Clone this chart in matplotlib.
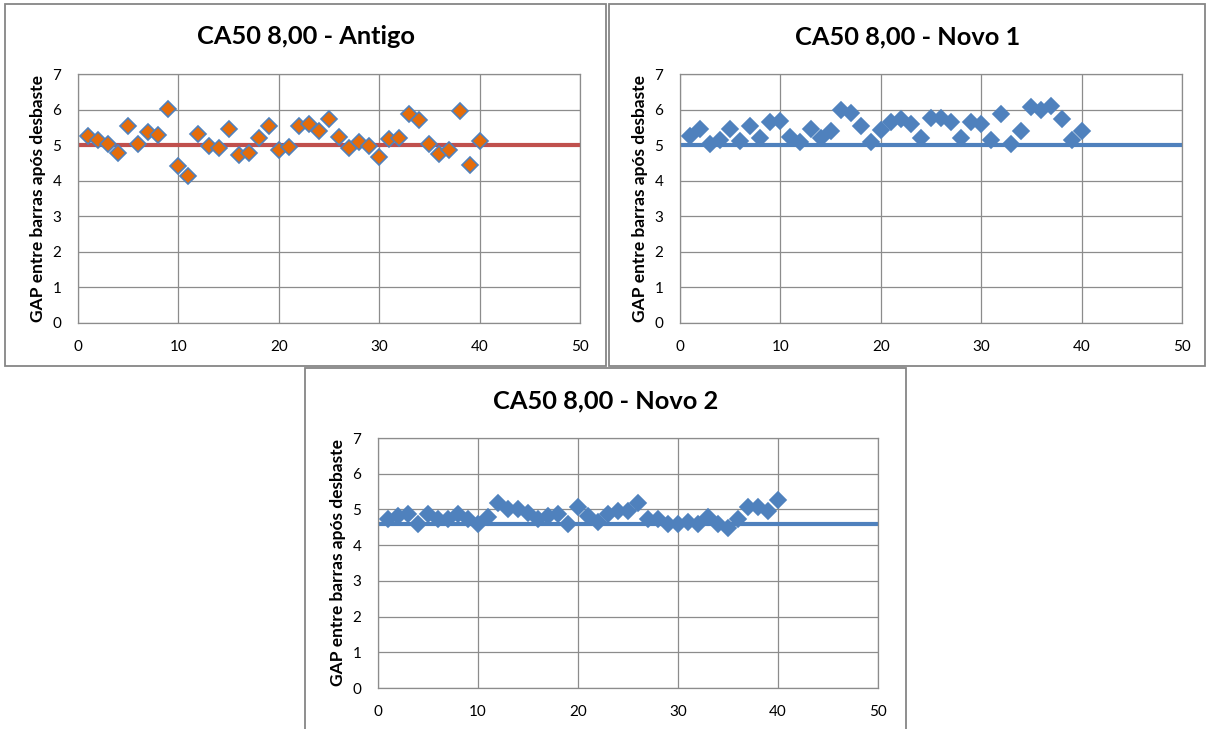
import matplotlib
matplotlib.use("Agg")
import matplotlib.pyplot as plt
from matplotlib.patches import Rectangle

plt.rcParams['font.family'] = ['Lato', 'DejaVu Sans']

W, H = 1206, 729

# amostras 1..40
amostra = list(range(1, 41))

gap_antigo = [5.27, 5.14, 5.02, 4.77, 5.54, 5.03, 5.38, 5.29, 6.03, 4.42,
              4.12, 5.30, 4.98, 4.91, 5.46, 4.71, 4.78, 5.21, 5.54, 4.85,
              4.96, 5.54, 5.60, 5.39, 5.73, 5.22, 4.93, 5.10, 4.98, 4.67,
              5.17, 5.19, 5.88, 5.71, 5.02, 4.74, 4.86, 5.96, 4.44, 5.13]

gap_novo1 = [5.27, 5.44, 5.02, 5.14, 5.44, 5.13, 5.54, 5.19, 5.64, 5.68,
             5.24, 5.08, 5.44, 5.19, 5.40, 5.99, 5.90, 5.54, 5.08, 5.43,
             5.64, 5.73, 5.59, 5.19, 5.77, 5.77, 5.64, 5.21, 5.66, 5.59,
             5.14, 5.87, 5.03, 5.40, 6.06, 5.99, 6.11, 5.73, 5.14, 5.40]

gap_novo2 = [4.72, 4.81, 4.88, 4.58, 4.88, 4.74, 4.74, 4.88, 4.74, 4.58,
             4.79, 5.17, 5.00, 5.00, 4.91, 4.74, 4.83, 4.86, 4.58, 5.06,
             4.81, 4.65, 4.86, 4.95, 4.95, 5.19, 4.72, 4.72, 4.60, 4.60,
             4.65, 4.60, 4.79, 4.60, 4.49, 4.72, 5.06, 5.06, 4.95, 5.26]

ref_antigo = 5.0
ref_novo1 = 5.0
ref_novo2 = 4.58

x_ticks = [0, 10, 20, 30, 40, 50]
y_ticks = [0, 1, 2, 3, 4, 5, 6, 7]

BLUE = "#4F81BD"
RED = "#C0504D"
ORANGE = "#E46C0A"
GRID = "#8C8C8C"


def box(x0, y0, x1, y1):
    return [x0 / W, 1 - y1 / H, (x1 - x0) / W, (y1 - y0) / H]


fig = plt.figure(figsize=(W / 100, H / 100), dpi=100)

# molduras dos graficos
for (x0, y0, x1, y1) in [(5, 4, 606, 366), (609, 4, 1205, 366), (305, 368, 906, 731)]:
    fig.add_artist(Rectangle((x0 / W, 1 - y1 / H), (x1 - x0) / W, (y1 - y0) / H,
                             transform=fig.transFigure, fill=False,
                             edgecolor="#868686", lw=1.3))


def draw(rect, title_xy, title, y, ref, line_color, face, edge):
    ax = fig.add_axes(box(*rect))
    ax.plot([0, 50], [ref, ref], color=line_color, lw=3.0, zorder=2,
            solid_capstyle="butt")
    ax.plot(amostra, y, ls="none", marker="D", ms=8, mfc=face, mec=edge,
            mew=1.2, zorder=3)
    ax.set_xlim(0, 50)
    ax.set_ylim(0, 7)
    ax.set_xticks(x_ticks)
    ax.set_yticks(y_ticks)
    ax.grid(True, color=GRID, lw=0.9)
    ax.set_axisbelow(True)
    for s in ax.spines.values():
        s.set_color(GRID)
        s.set_linewidth(0.9)
    ax.tick_params(length=0, labelsize=11, colors="#000000")
    ax.tick_params(axis="y", pad=12)
    ax.tick_params(axis="x", pad=12)
    ax.set_ylabel("GAP entre barras após desbaste", fontsize=12.5,
                  fontweight="bold")
    ax.yaxis.set_label_coords(-0.064, 0.5)
    fig.text(title_xy[0] / W, 1 - title_xy[1] / H, title, ha="center",
             va="center", fontsize=18.3, fontweight="bold")
    return ax


draw((78, 74, 580, 323), (306, 37), "CA50 8,00 - Antigo", gap_antigo,
     ref_antigo, RED, ORANGE, BLUE)
draw((680, 74, 1182, 323), (908, 37), "CA50 8,00 - Novo 1", gap_novo1,
     ref_novo1, BLUE, BLUE, BLUE)
draw((378, 438, 878, 688), (606, 401), "CA50 8,00 - Novo 2", gap_novo2,
     ref_novo2, BLUE, BLUE, BLUE)

fig.savefig("out.png", dpi=100)
